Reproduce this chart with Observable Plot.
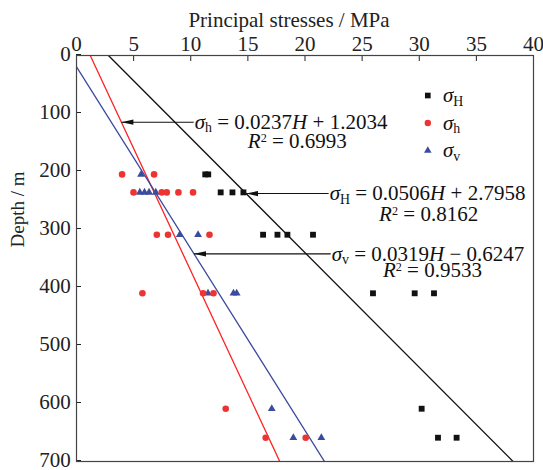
<!DOCTYPE html>
<html>
<head>
<meta charset="utf-8">
<script src="https://cdn.jsdelivr.net/npm/d3@7"></script>
<script src="https://cdn.jsdelivr.net/npm/@observablehq/plot@0.6"></script>
<style>
  html, body { margin: 0; padding: 0; background: #fff; }
</style>
</head>
<body>
<div id="chart"></div>
<script>
// Measured in-situ principal stresses (MPa) against depth (m)
const depthMajor = [205, 205, 236, 236, 236, 309, 309, 309, 309, 410, 410, 410, 609, 659, 659];
const sigmaMajor = [11.27, 11.53, 12.62, 13.65, 14.61, 16.33, 17.59, 18.46, 20.70, 25.95, 29.60, 31.29, 30.21, 31.64, 33.27];

const depthMinor = [205, 205, 236, 236, 236, 236, 236, 309, 309, 309, 410, 410, 410, 609, 659, 659];
const sigmaMinor = [3.99, 6.79, 4.99, 7.46, 7.90, 8.92, 10.20, 7.03, 8.01, 11.64, 5.77, 11.08, 11.99, 13.06, 16.56, 20.06];

const depthVert = [205, 236, 236, 236, 236, 309, 309, 410, 410, 410, 609, 659, 659];
const sigmaVert = [5.65, 5.54, 5.95, 6.35, 6.94, 9.04, 10.64, 11.51, 13.74, 14.02, 17.09, 18.98, 21.43];

// Linear fits: sigma = slope * H + intercept
const fitNames = ["H", "h", "v"];
const fitSlopes = [0.0506, 0.0237, 0.0319];
const fitIntercepts = [2.7958, 1.2034, -0.6247];
const fitR2 = ["0.8162", "0.6993", "0.9533"];
const fitColors = ["#111111", "#ff2222", "#3d4b9e"];

// Annotation anchors: depth of the pointer, where its tail starts, and the R² line
const noteDepth = [238, 115, 342];
const noteTail = [22.07, 10.26, 22.25];
const noteR2X = [30.82, 19.33, 31.15];
const noteR2Depth = [273, 148, 371];

const xTicks = [0, 5, 10, 15, 20, 25, 30, 35, 40];
const yTicks = [0, 100, 200, 300, 400, 500, 600, 700];

const serif = "'Liberation Serif', 'Times New Roman', serif";

const rows = (depths, values) => depths.map((d, i) => ({depth: d, stress: values[i]}));

// Narrow filled arrowhead whose tip sits on the anchor point, pointing left
const arrowHead = {
  draw(ctx) {
    ctx.moveTo(0, 0);
    ctx.lineTo(12, -2.6);
    ctx.lineTo(12, 2.6);
    ctx.closePath();
  }
};

const fmt = v => v.toFixed(4);
const eqText = i => {
  const b = fitIntercepts[i];
  return `*σ*_${fitNames[i]}_ = ${fmt(fitSlopes[i])}*H* ${b < 0 ? "−" : "+"} ${fmt(Math.abs(b))}`;
};

const fitLineMarks = fitNames.map((n, i) =>
  Plot.line([0, 700].map(d => ({depth: d, stress: fitSlopes[i] * d + fitIntercepts[i]})), {
    x: "stress", y: "depth", stroke: fitColors[i], strokeWidth: 1.3, clip: true
  })
);

const notes = fitNames.map((n, i) => ({
  i,
  depth: noteDepth[i],
  tail: noteTail[i],
  tip: fitSlopes[i] * noteDepth[i] + fitIntercepts[i],
  eq: eqText(i),
  r2: `*R*^2^ = ${fitR2[i]}`,
  r2x: noteR2X[i],
  r2depth: noteR2Depth[i]
}));

const legendSymbols = ["square", "circle", "triangle"];
const legendFills = ["#111111", "#ee3333", "#3d4b9e"];
const legendMarks = fitNames.flatMap((n, i) => [
  Plot.dot([n], {frameAnchor: "top-right", dx: -105.7, dy: 40 + 27.5 * i,
    symbol: legendSymbols[i], r: i === 2 ? 2.8 : 3.2, fill: legendFills[i], stroke: "none"}),
  Plot.text([`*σ*_${n}_`], {frameAnchor: "top-right", dx: -90.5, dy: 40 + 27.5 * i,
    text: d => d, textAnchor: "start", lineAnchor: "middle", fontSize: 21, fill: "#111", ariaDescription: "rich"})
]);

const chart = Plot.plot({
  width: 543,
  height: 470,
  marginTop: 55,
  marginLeft: 76,
  marginRight: 10,
  marginBottom: 9,
  style: {fontFamily: serif, fontSize: "21px", color: "#222", background: "#fff"},
  x: {domain: [0, 40]},
  y: {domain: [0, 700], reverse: true},
  marks: [
    Plot.axisX(xTicks, {anchor: "top", tickSize: -5, tickPadding: 10, label: null, fontSize: 21}),
    Plot.axisY(yTicks, {anchor: "left", tickSize: -5, tickPadding: 10.7, label: null, fontSize: 21, dy: -1}),
    Plot.text(["Principal stresses / MPa"], {frameAnchor: "top", dx: -16, dy: -29, lineAnchor: "bottom", fontSize: 21, fill: "#222"}),
    Plot.text(["Depth / m"], {frameAnchor: "left", dx: -59, dy: -11, rotate: -90, lineAnchor: "middle", fontSize: 19, fill: "#222"}),
    ...fitLineMarks,
    Plot.dot(rows(depthMajor, sigmaMajor), {x: "stress", y: "depth", symbol: "square", r: 3.3, fill: "#111", stroke: "none"}),
    Plot.dot(rows(depthVert, sigmaVert), {x: "stress", y: "depth", symbol: "triangle", r: 2.9, fill: "#3d4b9e", stroke: "none"}),
    Plot.dot(rows(depthMinor, sigmaMinor), {x: "stress", y: "depth", symbol: "circle", r: 3.3, fill: "#ee3333", stroke: "none"}),
    Plot.link(notes, {x1: "tail", x2: "tip", y1: "depth", y2: "depth", stroke: "#111", strokeWidth: 1.1}),
    Plot.dot(notes, {x: "tip", y: "depth", symbol: arrowHead, r: 3, fill: "#111", stroke: "none"}),
    Plot.text(notes, {x: "tail", y: "depth", text: "eq", textAnchor: "start", lineAnchor: "middle", dx: 1, fontSize: 21, fill: "#111", ariaDescription: "rich"}),
    Plot.text(notes, {x: "r2x", y: "r2depth", text: "r2", textAnchor: "middle", lineAnchor: "middle", fontSize: 21, fill: "#111", ariaDescription: "rich"}),
    ...legendMarks,
    Plot.frame({stroke: "#444", strokeWidth: 1.2})
  ]
});

// Turn the *italic*, _subscript_ and ^superscript^ markup into tspans
function richText(svg) {
  const ns = "http://www.w3.org/2000/svg";
  svg.querySelectorAll('g[aria-description="rich"] text').forEach(t => {
    const src = t.textContent;
    t.textContent = "";
    let shift = 0;
    src.split(/(\*[^*]+\*|_[^_]+_|\^[^^]+\^)/).forEach(part => {
      if (!part) return;
      const ts = document.createElementNS(ns, "tspan");
      const k = part[0];
      let target = 0;
      if (k === "*") {
        ts.textContent = part.slice(1, -1);
        ts.setAttribute("font-style", "italic");
      } else if (k === "_") {
        ts.textContent = part.slice(1, -1);
        ts.setAttribute("font-size", "66%");
        target = 3.5;
      } else if (k === "^") {
        ts.textContent = part.slice(1, -1);
        ts.setAttribute("font-size", "58%");
        target = -6;
      } else {
        ts.textContent = part;
      }
      if (target !== shift) { ts.setAttribute("dy", target - shift); shift = target; }
      t.appendChild(ts);
    });
  });
}
richText(chart);

document.getElementById("chart").appendChild(chart);
</script>
</body>
</html>
